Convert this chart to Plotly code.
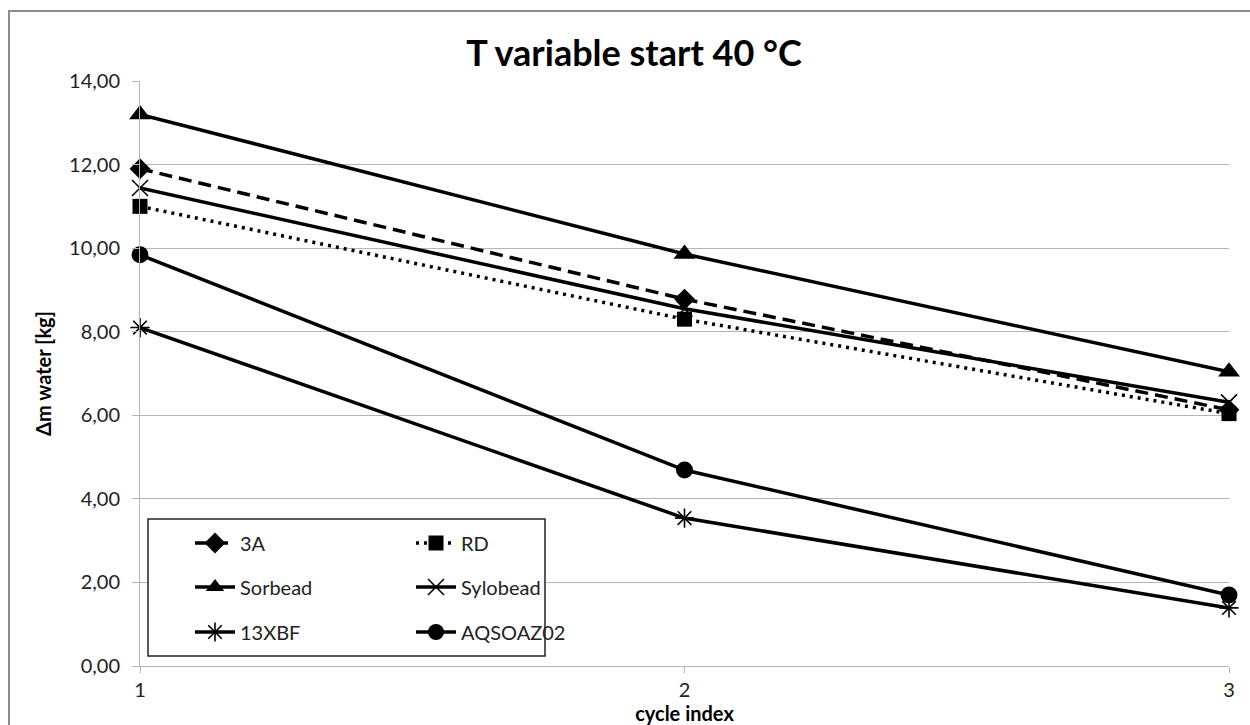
import plotly.graph_objects as go

# Cycle index on the x axis
cycles = [1, 2, 3]

# Water uptake per cycle [kg] for each sorbent
m_3a = [11.90, 8.78, 6.13]
m_rd = [11.00, 8.30, 6.04]
m_sorbead = [13.20, 9.86, 7.04]
m_sylobead = [11.44, 8.55, 6.31]
m_13xbf = [8.10, 3.54, 1.39]
m_aqsoa = [9.84, 4.69, 1.70]

y_ticks = [0, 2, 4, 6, 8, 10, 12, 14]

FONT = "Lato"
BLACK = "#000000"
GRID = "#b4b4b4"

series = [
    ("3A", m_3a, dict(dash="13px,7px"), dict(symbol="diamond", size=16), "legend"),
    ("RD", m_rd, dict(dash="3px,5px"), dict(symbol="square", size=15), "legend"),
    ("Sorbead", m_sorbead, dict(dash="solid"), dict(symbol="triangle-up", size=19), "legend2"),
    ("Sylobead", m_sylobead, dict(dash="solid"),
     dict(symbol="x-thin-open", size=16, line=dict(width=1.6, color=BLACK)), "legend2"),
    ("13XBF", m_13xbf, dict(dash="solid"),
     dict(symbol="asterisk-open", size=16, line=dict(width=1.6, color=BLACK)), "legend3"),
    ("AQSOAZ02", m_aqsoa, dict(dash="solid"), dict(symbol="circle", size=17), "legend3"),
]

fig = go.Figure()
for name, vals, line_style, marker_style, leg in series:
    fig.add_trace(go.Scatter(
        x=cycles, y=vals, name=name, mode="lines+markers",
        line=dict(color=BLACK, width=3.5, **line_style),
        marker=dict(color=BLACK, **marker_style),
        cliponaxis=False, legend=leg,
    ))

# Three legend rows, two entries each, inside a framed box
leg_common = dict(
    orientation="h", xanchor="left", yanchor="middle",
    font=dict(family=FONT, size=20, color="#222222"),
    bgcolor="rgba(0,0,0,0)", entrywidth=166, itemwidth=40,
    tracegroupgap=0,
)
rows_y = [(666 - 543) / 585, (666 - 587) / 585, (666 - 632) / 585]
x_leg = (190 - 140) / 1089

fig.update_layout(
    width=1250, height=725,
    margin=dict(l=140, r=21, t=81, b=59),
    paper_bgcolor="white", plot_bgcolor="white",
    separators=", ",
    title=dict(text="<b>T variable start 40 °C</b>", x=(634 - 140) / 1089, xref="paper",
               xanchor="center", y=1 - 53 / 725, yanchor="middle",
               font=dict(family=FONT, size=36, color=BLACK)),
    legend=dict(x=x_leg, y=rows_y[0], **leg_common),
    legend2=dict(x=x_leg, y=rows_y[1], **leg_common),
    legend3=dict(x=x_leg, y=rows_y[2], **leg_common),
    xaxis=dict(
        range=[1, 3], tickvals=cycles, ticktext=[str(c) for c in cycles],
        showgrid=False, zeroline=False, showline=True, linecolor=GRID, linewidth=1,
        ticks="outside", ticklen=6, tickcolor=GRID, automargin=False,
        tickfont=dict(family=FONT, size=20, color="#222222"),
        title=dict(text="<b>cycle index</b>", standoff=2,
                   font=dict(family=FONT, size=20, color=BLACK)),
    ),
    yaxis=dict(
        range=[0, 14], tickvals=y_ticks, tickformat=".2f",
        showgrid=True, gridcolor=GRID, gridwidth=1, zeroline=False,
        showline=True, linecolor=GRID, linewidth=1, automargin=False,
        ticks="outside", ticklen=7, tickcolor=GRID, ticklabelstandoff=8,
        tickfont=dict(family=FONT, size=20, color="#222222"),
        title=dict(text="<b>Δm water [kg]</b>", standoff=12,
                   font=dict(family=FONT, size=20, color=BLACK)),
    ),
    shapes=[
        # outer chart frame
        dict(type="rect", xref="paper", yref="paper",
             x0=(9 - 140) / 1089, y0=-0.3, x1=1.2, y1=(666 - 11) / 585,
             line=dict(color="#8c8c8c", width=2), fillcolor="rgba(0,0,0,0)", layer="below"),
        # legend frame
        dict(type="rect", xref="paper", yref="paper",
             x0=(148 - 140) / 1089, y0=(666 - 656) / 585,
             x1=(545 - 140) / 1089, y1=(666 - 519) / 585,
             line=dict(color="#222222", width=1.5), fillcolor="white", layer="above"),
    ],
)

fig.write_html("out.html")
